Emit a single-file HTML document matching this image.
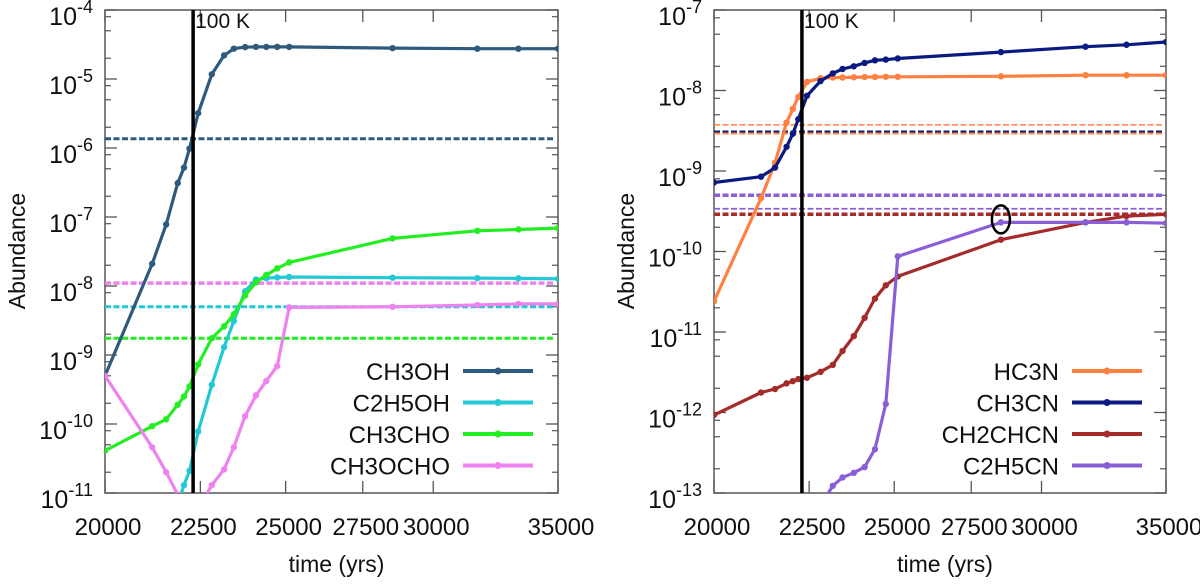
<!DOCTYPE html>
<html><head><meta charset="utf-8">
<style>
html,body{margin:0;padding:0;background:#fff;overflow:hidden;width:1200px;height:585px;}
svg{display:block;font-family:"Liberation Sans",sans-serif;overflow:hidden;}
</style></head>
<body>
<svg id="chart" width="1200" height="585" viewBox="0 0 1200 585"></svg>
<script>
// shared time grid (yrs)
const times = [20000,21200,21570,21880,22050,22200,22440,22820,23170,23450,23780,24100,24410,24740,25110,28530,31680,33330,35000];
const xTicks = [20000,22500,25000,27500,30000,35000];
// Left panel series
const ch3oh = [5e-10,2.1e-8,7.8e-8,3.1e-7,5.2e-7,9.8e-7,3.2e-6,1.17e-5,2.2e-5,2.75e-5,2.9e-5,2.92e-5,2.92e-5,2.92e-5,2.92e-5,2.8e-5,2.75e-5,2.75e-5,2.75e-5];
const c2h5oh = [1e-13,1e-13,1e-13,7e-12,1.3e-11,2.1e-11,7.8e-11,3.7e-10,1.3e-9,3.1e-9,8.4e-9,1.24e-8,1.3e-8,1.33e-8,1.35e-8,1.32e-8,1.3e-8,1.29e-8,1.27e-8];
const ch3cho = [4.1e-11,9.3e-11,1.17e-10,1.9e-10,2.5e-10,3.5e-10,7.3e-10,1.75e-9,2.6e-9,3.9e-9,7.3e-9,1.13e-8,1.44e-8,1.8e-8,2.2e-8,4.9e-8,6.3e-8,6.6e-8,6.9e-8];
const ch3ocho = [5e-10,4.6e-11,2e-11,9.5e-12,5e-12,3e-12,6e-12,1.3e-11,2.2e-11,4.6e-11,1.3e-10,2.6e-10,4.2e-10,6.9e-10,4.9e-9,5e-9,5.3e-9,5.5e-9,5.5e-9];
const leftObs = [1.36e-6,5e-9,1.75e-9,1.1e-8];
const leftDecades = [-11,-10,-9,-8,-7,-6,-5,-4];
// Right panel series
const hc3n = [2.4e-11,4.6e-10,1.26e-9,4.0e-9,5.9e-9,8.3e-9,1.28e-8,1.42e-8,1.45e-8,1.45e-8,1.46e-8,1.47e-8,1.47e-8,1.48e-8,1.48e-8,1.5e-8,1.55e-8,1.55e-8,1.55e-8];
const ch3cn = [7.2e-10,8.5e-10,1.1e-9,2e-9,2.9e-9,4.4e-9,8.6e-9,1.31e-8,1.63e-8,1.85e-8,2.0e-8,2.2e-8,2.37e-8,2.42e-8,2.5e-8,3.0e-8,3.5e-8,3.7e-8,4.0e-8];
const ch2chcn = [9.3e-13,1.77e-12,1.96e-12,2.3e-12,2.45e-12,2.6e-12,2.7e-12,3.2e-12,3.9e-12,5.8e-12,8.9e-12,1.5e-11,2.6e-11,3.8e-11,4.9e-11,1.4e-10,2.3e-10,2.75e-10,2.9e-10];
const c2h5cn = [1e-15,1e-15,1e-15,1e-15,1e-15,1e-15,1e-14,7e-14,1.23e-13,1.56e-13,1.78e-13,2.1e-13,3.5e-13,1.28e-12,8.7e-11,2.3e-10,2.3e-10,2.3e-10,2.25e-10];
const rightObsThick = [3.0e-9,3.1e-9,5e-10,2.9e-10];
const rightObsThin = [3.74e-9,3.4e-10];
const rightDecades = [-13,-12,-11,-10,-9,-8,-7];
const t100K = 22300;
const highlightT = 28530, highlightV = 2.3e-10;

const NS="http://www.w3.org/2000/svg";
const svg=document.getElementById('chart');
function mk(tag,attrs,parent){const e=document.createElementNS(NS,tag);for(const k in attrs)e.setAttribute(k,attrs[k]);(parent||svg).appendChild(e);return e;}

function panel(cfg){
  const g=mk('g',{});
  
  
  const lx0=Math.log10(20000), lx1=Math.log10(35000);
  const X=t=>cfg.x0+(Math.log10(t)-lx0)/(lx1-lx0)*(cfg.x1-cfg.x0);
  const Y=v=>cfg.y0+(cfg.top-Math.log10(v))*(cfg.y1-cfg.y0)/(cfg.top-cfg.bot);
  const cid='clip-'+cfg.name;
  const cp=mk('clipPath',{id:cid},g);
  mk('rect',{x:cfg.x0,y:cfg.y0,width:cfg.x1-cfg.x0,height:cfg.y1-cfg.y0},cp);
  const fr=mk('rect',{x:cfg.x0,y:cfg.y0,width:cfg.x1-cfg.x0,height:cfg.y1-cfg.y0,fill:'none',stroke:'#555','stroke-width':1.5},g);
  
  
  cfg.decades.forEach(d=>{
    const y=Y(Math.pow(10,d));
    mk('line',{x1:cfg.x0,x2:cfg.x0+12,y1:y,y2:y,stroke:'#555','stroke-width':1.3},g);
    mk('line',{x1:cfg.x1,x2:cfg.x1-12,y1:y,y2:y,stroke:'#555','stroke-width':1.3},g);
    if(d<cfg.top){[2,5,8].forEach(m=>{const ym=Y(m*Math.pow(10,d));
      mk('line',{x1:cfg.x0,x2:cfg.x0+6,y1:ym,y2:ym,stroke:'#555','stroke-width':1.2},g);
      mk('line',{x1:cfg.x1,x2:cfg.x1-6,y1:ym,y2:ym,stroke:'#555','stroke-width':1.2},g);});}
    const tx=mk('text',{x:cfg.x0-12,y:y+15,'text-anchor':'end','font-size':25,fill:'#111'},g);
    
    
    const a=mk('tspan',{},tx);a.textContent='10';
    const b=mk('tspan',{dy:-12,'font-size':18},tx);b.textContent=String(d);
  });
  xTicks.forEach(t=>{
    const x=X(t);
    mk('line',{x1:x,x2:x,y1:cfg.y1,y2:cfg.y1-12,stroke:'#555','stroke-width':1.3},g);
    mk('line',{x1:x,x2:x,y1:cfg.y0,y2:cfg.y0+12,stroke:'#555','stroke-width':1.3},g);
    const tx=mk('text',{x:x+3,y:535,'text-anchor':'middle','font-size':24,fill:'#111'},g);
    
    
    tx.textContent=String(t);
  });
  const yl=mk('text',{x:0,y:0,transform:`translate(${cfg.x0-80},251) rotate(-90)`,'text-anchor':'middle','font-size':23,fill:'#111'},g);
  
  
  yl.textContent='Abundance';
  const xl=mk('text',{x:(cfg.x0+cfg.x1)/2+5,y:572,'text-anchor':'middle','font-size':23,fill:'#111'},g);
  
  
  xl.textContent='time (yrs)';
  const cg=mk('g',{'clip-path':`url(#${cid})`},g);
  cfg.obs.forEach(o=>{
    const l=mk('line',{x1:cfg.x0,x2:cfg.x1-4,y1:Y(o.v),y2:Y(o.v),stroke:o.c,'stroke-width':o.w,'stroke-dasharray':'6 2.5'},cg);
    
    
  });
  cfg.series.forEach(s=>{
    const pts=times.map((t,i)=>X(t).toFixed(1)+','+Y(s.vals[i]).toFixed(1)).join(' ');
    const pl=mk('polyline',{points:pts,fill:'none',stroke:s.c,'stroke-width':3.2,'stroke-linejoin':'round'},cg);
    
    
    times.forEach((t,i)=>{
      const m=mk('circle',{cx:X(t),cy:Y(s.vals[i]),r:3.2,fill:s.c},cg);
      
      
    });
  });
  const vl=mk('line',{x1:X(t100K),x2:X(t100K),y1:cfg.y0,y2:cfg.y1,stroke:'#000','stroke-width':3.5},g);
  
  
  const kt=mk('text',{x:X(t100K)+2,y:cfg.y0+18,'font-size':21,fill:'#111'},g);
  
  
  kt.textContent='100 K';
  cfg.series.forEach((s,i)=>{
    const y=371+i*31.5;
    const t=mk('text',{x:cfg.legX,y:y+9,'text-anchor':'end','font-size':24,fill:'#111'},g);
    
    
    t.textContent=s.label;
    const l=mk('line',{x1:cfg.legX+13,x2:cfg.legX+83,y1:y,y2:y,stroke:s.c,'stroke-width':4},g);
    
    
    mk('circle',{cx:cfg.legX+48,cy:y,r:3.5,fill:s.c},g);
  });
  return {X,Y,g};
}

panel({name:'left-panel',x0:105,x1:558,y0:10,y1:493,top:-4,bot:-11,decades:leftDecades,legX:450,
  obs:[{v:leftObs[0],c:'#2e5a7e',w:3},{v:leftObs[1],c:'#22c8d4',w:3},{v:leftObs[2],c:'#22ee22',w:3},{v:leftObs[3],c:'#ee82ee',w:3.5}],
  series:[{label:'CH3OH',vals:ch3oh,c:'#2e5a7e'},{label:'C2H5OH',vals:c2h5oh,c:'#22c8d4'},{label:'CH3CHO',vals:ch3cho,c:'#22ee22'},{label:'CH3OCHO',vals:ch3ocho,c:'#ee82ee'}]});

const R=panel({name:'right-panel',x0:714,x1:1166,y0:10,y1:493,top:-7,bot:-13,decades:rightDecades,legX:1059,
  obs:[{v:rightObsThin[0],c:'#ff8040',w:1.6},{v:rightObsThick[0],c:'#ff8040',w:3.5},{v:rightObsThick[1],c:'#0b1a80',w:2},{v:rightObsThick[2],c:'#8a5fd6',w:3.5},{v:rightObsThin[1],c:'#8a5fd6',w:1.8},{v:rightObsThick[3],c:'#a52a2a',w:3.5}],
  series:[{label:'HC3N',vals:hc3n,c:'#ff8040'},{label:'CH3CN',vals:ch3cn,c:'#0b1a80'},{label:'CH2CHCN',vals:ch2chcn,c:'#a52a2a'},{label:'C2H5CN',vals:c2h5cn,c:'#8a5fd6'}]});

const el=mk('ellipse',{cx:R.X(highlightT),cy:R.Y(highlightV)-3,rx:9,ry:14,fill:'none',stroke:'#000','stroke-width':2.5},R.g);


</script>
</body></html>
